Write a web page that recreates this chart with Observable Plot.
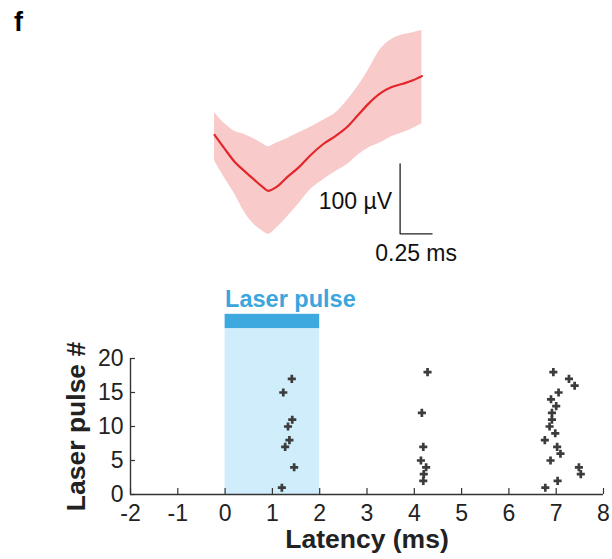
<!DOCTYPE html>
<html>
<head>
<meta charset="utf-8">
<script src="https://cdn.jsdelivr.net/npm/d3@7"></script>
<script src="https://cdn.jsdelivr.net/npm/@observablehq/plot@0.6"></script>
<style>
  html, body { margin: 0; padding: 0; background: #fff; }
  #fig { position: relative; width: 612px; height: 559px; font-family: "Liberation Sans", Arial, sans-serif; }
  #fig svg { display: block; }
  #panel { position: absolute; left: 14px; top: 7px; font: bold 27px "Liberation Sans", Arial, sans-serif; color: #000; }
</style>
</head>
<body>
<div id="fig">
  <div id="panel">f</div>
  <div id="wave"></div>
  <div id="raster"></div>
</div>
<script>
// Average evoked waveform (time in ms, voltage in µV) with its spread band
const waveTime  = [0, 0.08, 0.16, 0.23, 0.31, 0.38, 0.42, 0.48, 0.57, 0.66, 0.75, 0.85, 0.95, 1.04, 1.12, 1.20, 1.30, 1.38, 1.47, 1.55, 1.62];
const waveMean  = [8, -12, -31, -43, -56, -67, -72, -67, -52, -38, -21, -5, 7, 20, 36, 52, 68, 76, 81, 86, 92];
const waveUpper = [40, 24, 13, 9, 2, -5, -9, -4, 3, 11, 19, 29, 40, 58, 77, 100, 131, 144, 151, 154, 157];
const waveLower = [-29, -54, -77, -101, -120, -130, -134, -126, -109, -90, -70, -56, -44, -34, -21, -11, -3, 5, 11, 17, 24];

// Scale bar: 100 µV vertical, 0.25 ms horizontal
const barVolt = 100, barTime = 0.25;
const barOrigin = {t: 1.45, v: -133.3};

// Spike raster: laser pulse number and spike latency (ms)
const pulseEarly   = [17, 15, 11, 10, 8, 7, 4, 1];
const latencyEarly = [1.41, 1.23, 1.42, 1.33, 1.36, 1.27, 1.46, 1.20];
const pulseMid     = [18, 12, 7, 5, 4, 3, 2];
const latencyMid   = [4.28, 4.16, 4.19, 4.14, 4.25, 4.20, 4.19];
const pulseLate    = [18, 17, 16, 15, 14, 13, 12, 11, 10, 9, 8, 7, 6, 5, 4, 3, 2, 1];
const latencyLate  = [6.94, 7.27, 7.39, 7.05, 6.89, 7.00, 6.91, 6.91, 6.86, 6.98, 6.76, 7.02, 7.09, 6.88, 7.48, 7.52, 7.03, 6.77];

// Laser pulse window (ms)
const laserOn = 0, laserOff = 2;
const xTicks = [-2, -1, 0, 1, 2, 3, 4, 5, 6, 7, 8];
const yTicks = [0, 5, 10, 15, 20];

const wave = waveTime.map((t, i) => ({t, mean: waveMean[i], hi: waveUpper[i], lo: waveLower[i]}));
const barPath = [
  {t: barOrigin.t, v: barOrigin.v + barVolt},
  {t: barOrigin.t, v: barOrigin.v},
  {t: barOrigin.t + barTime, v: barOrigin.v}
];

const font = '"Liberation Sans", Arial, sans-serif';

const waveChart = Plot.plot({
  width: 612, height: 280,
  marginLeft: 214, marginRight: 14, marginTop: 0, marginBottom: 0,
  x: {domain: [0, 3], axis: null},
  y: {domain: [-200, 200], axis: null},
  style: {fontFamily: font, background: "transparent"},
  marks: [
    Plot.areaY(wave, {x: "t", y1: "lo", y2: "hi", fill: "#f9caca", curve: "monotone-x"}),
    Plot.line(wave, {x: "t", y: "mean", stroke: "#e3262a", strokeWidth: 2.2, curve: "monotone-x"}),
    Plot.line(barPath, {x: "t", y: "v", stroke: "#222", strokeWidth: 1.3}),
    Plot.text([`${barVolt} µV`], {x: barOrigin.t, y: barOrigin.v + barVolt / 2, textAnchor: "end", dx: -8, dy: 3, fontSize: 23, fill: "#111"}),
    Plot.text([`${barTime} ms`], {x: barOrigin.t + barTime / 2, y: barOrigin.v, lineAnchor: "top", dy: 11, fontSize: 23, fill: "#111"})
  ]
});
document.getElementById("wave").appendChild(waveChart);

const spikes = [
  ...pulseEarly.map((p, i) => ({pulse: p, latency: latencyEarly[i]})),
  ...pulseMid.map((p, i) => ({pulse: p, latency: latencyMid[i]})),
  ...pulseLate.map((p, i) => ({pulse: p, latency: latencyLate[i]}))
];
const pulse = [{start: laserOn, end: laserOff}];

const rasterChart = Plot.plot({
  width: 612, height: 279,
  marginLeft: 130, marginRight: 9, marginTop: 78, marginBottom: 65,
  x: {domain: [-2, 8]},
  y: {domain: [0, 20]},
  style: {fontFamily: font, background: "transparent", overflow: "visible"},
  marks: [
    Plot.rect(pulse, {x1: "start", x2: "end", y1: 0, y2: 24.4, fill: "#cfedfa"}),
    Plot.rect(pulse, {x1: "start", x2: "end", y1: 24.4, y2: 26.5, fill: "#3ea9df"}),
    Plot.text(["Laser pulse"], {x: laserOn, y: 26.5, textAnchor: "start", lineAnchor: "bottom", dy: -7, fontSize: 23.5, fontWeight: "bold", fill: "#3aa6dd"}),
    Plot.axisX({ticks: xTicks, tickFormat: d => d < 0 ? `-${-d}` : `${d}`, tickSize: -6, tickPadding: 16, fontSize: 23, color: "#222", stroke: "#333", strokeWidth: 1.2, label: null}),
    Plot.axisY({ticks: yTicks, tickSize: -5, tickPadding: 12, fontSize: 23, color: "#222", stroke: "#333", strokeWidth: 1.2, label: null}),
    Plot.ruleY([0], {x1: -2, x2: 8, stroke: "#333", strokeWidth: 1.4}),
    Plot.ruleX([-2], {y1: 0, y2: 20, stroke: "#333", strokeWidth: 1.4}),
    Plot.dot(spikes, {x: "latency", y: "pulse", symbol: "cross", r: 3.4, fill: "#3c3c3c", stroke: "none"}),
    Plot.text(["Latency (ms)"], {frameAnchor: "bottom", textAnchor: "middle", lineAnchor: "top", dy: 35, fontSize: 26.5, fontWeight: "bold", fill: "#222"}),
    Plot.text(["Laser pulse #"], {frameAnchor: "left", textAnchor: "middle", rotate: -90, dx: -54, fontSize: 26.5, fontWeight: "bold", fill: "#222"})
  ]
});
document.getElementById("raster").appendChild(rasterChart);
</script>
</body>
</html>
